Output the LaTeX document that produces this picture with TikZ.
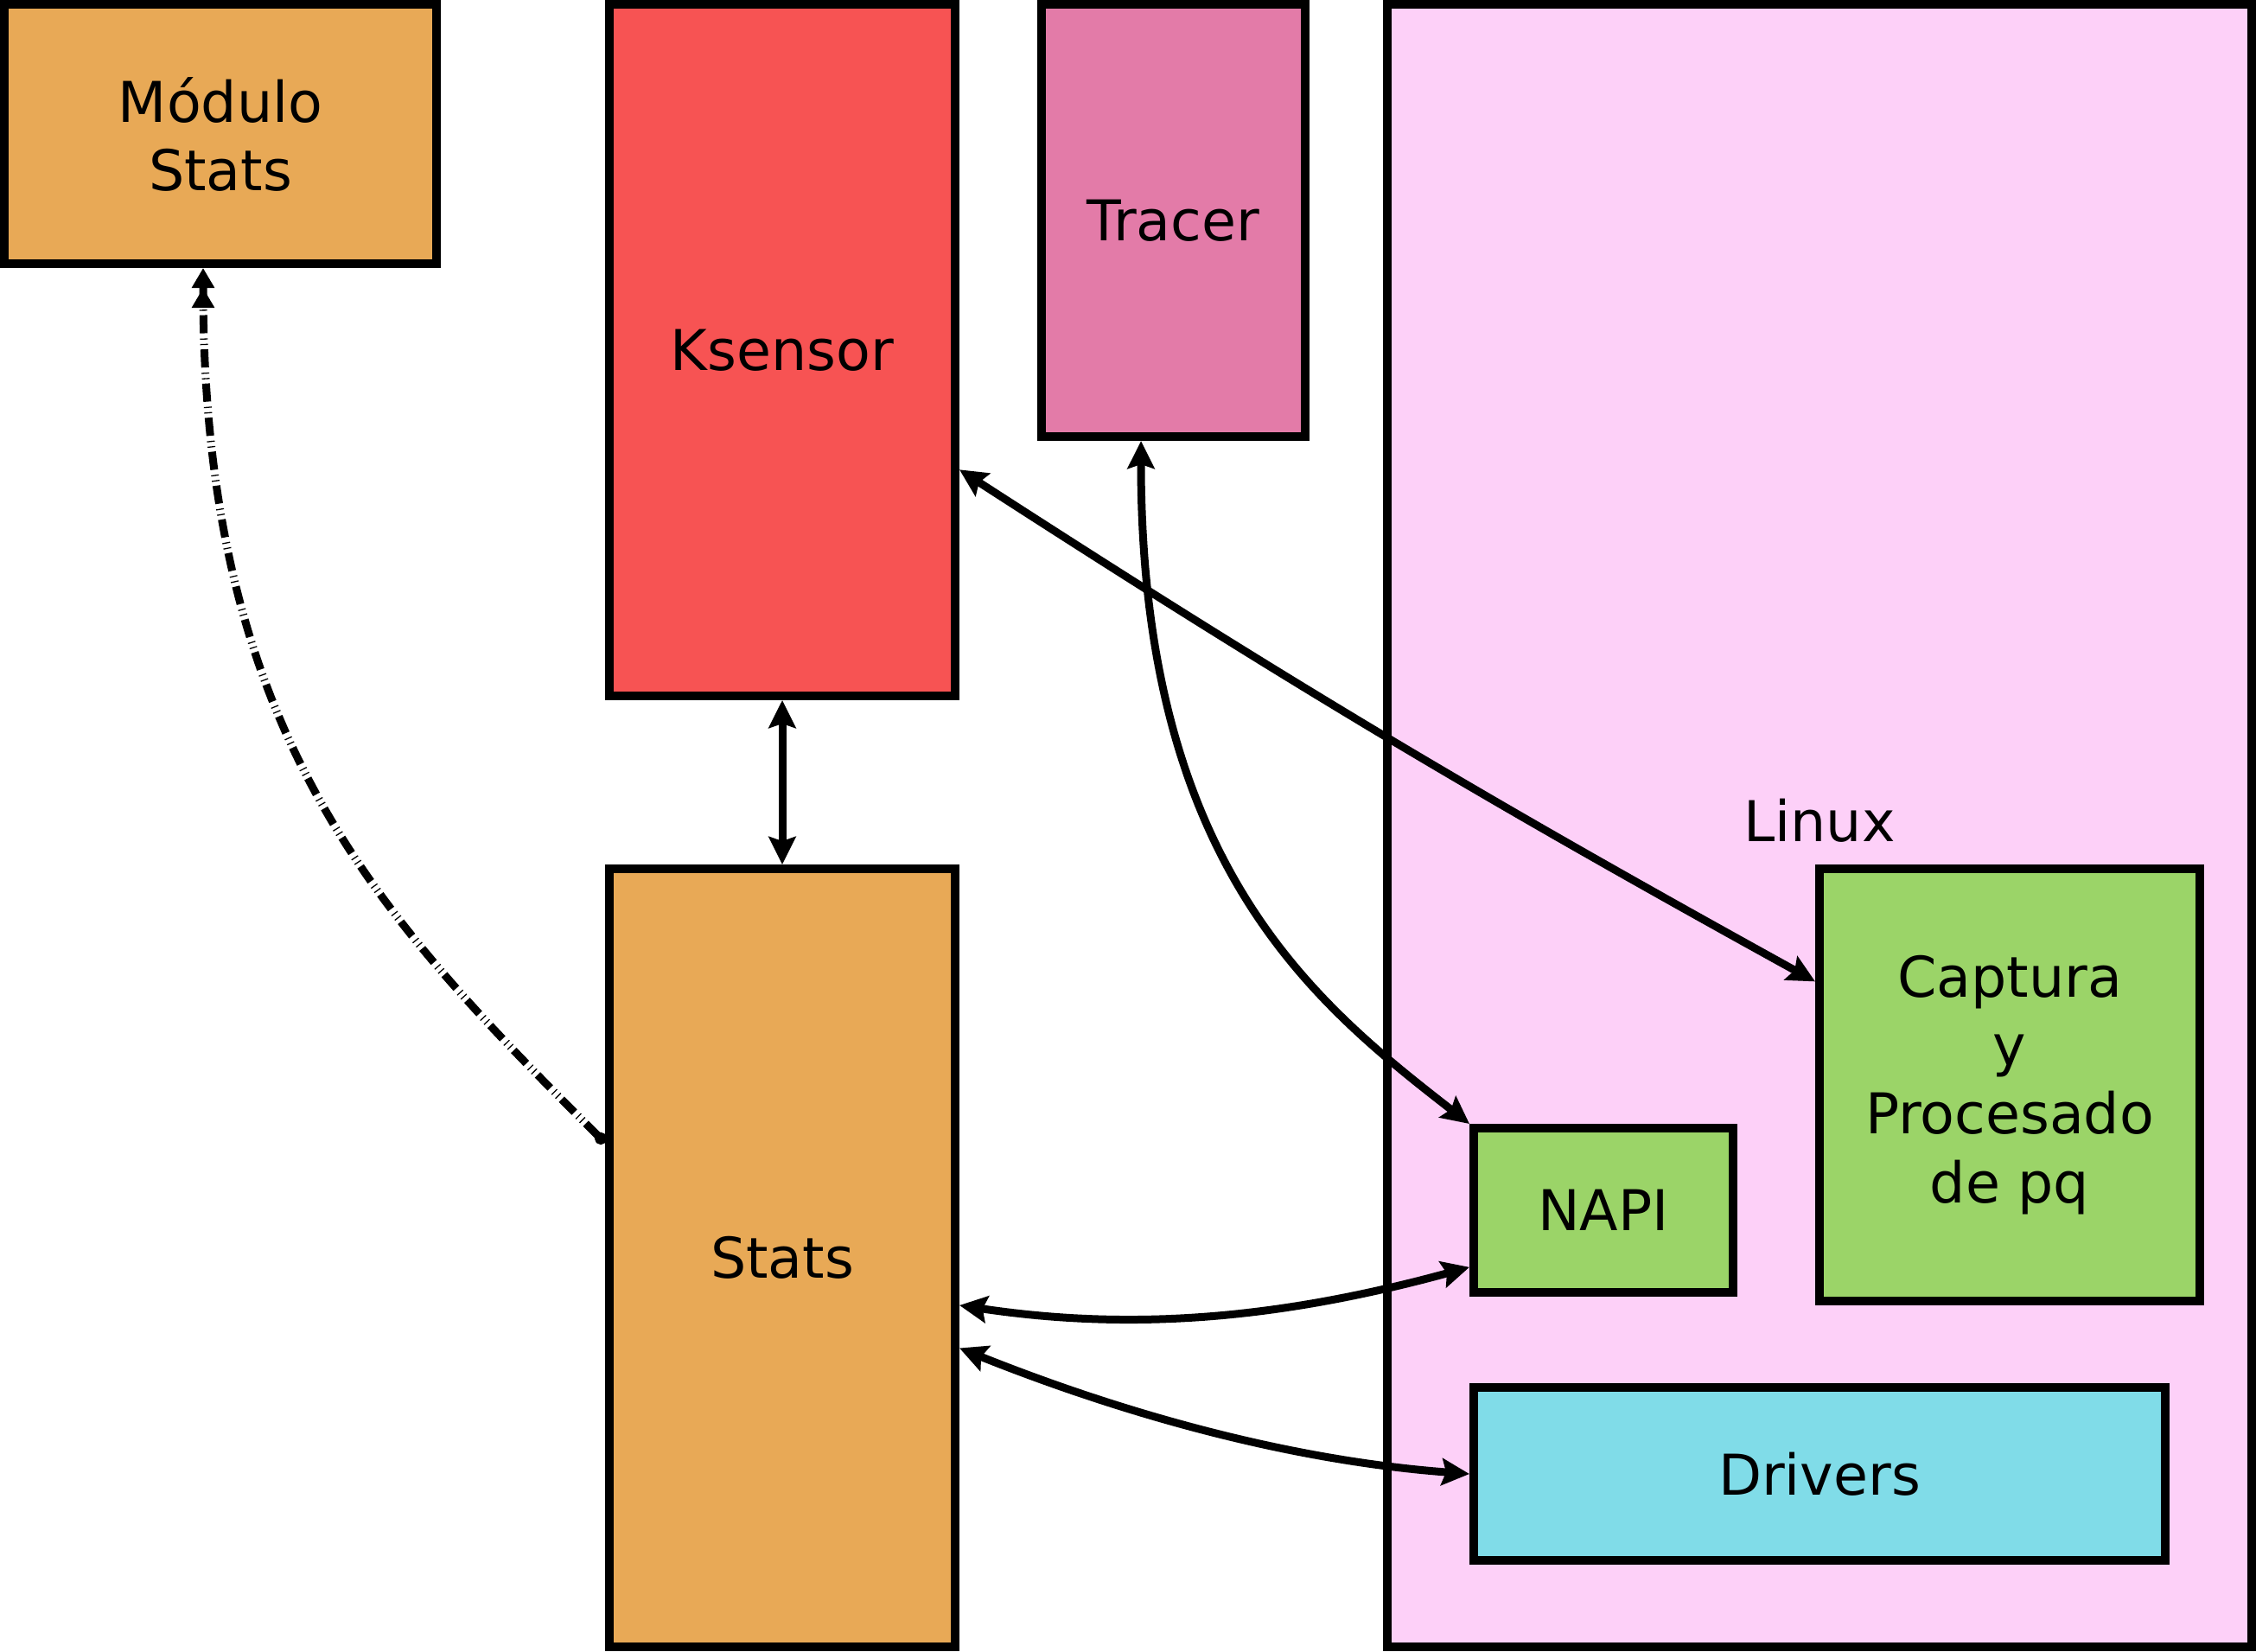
\documentclass[tikz,border=0pt]{standalone}
\usepackage{fontspec}
\setmainfont{DejaVu Sans}
\usetikzlibrary{arrows.meta}

\definecolor{naranja}{HTML}{E8A956}
\definecolor{rojo}{HTML}{F75353}
\definecolor{rosa}{HTML}{E37BA8}
\definecolor{rosaclaro}{HTML}{FDD0F8}
\definecolor{verde}{HTML}{9BD468}
\definecolor{celeste}{HTML}{80DCE8}

\tikzset{
	texto/.style={inner sep=0pt, align=center, font=\fontsize{18.5pt}{22.5pt}\selectfont},
	caja/.style={texto, draw, line width=.1cm},
	flecha/.style={line width=.09cm, <->},
	punteada/.style={line width=.09cm,
		dash pattern=on .21cm off .05cm on .013cm off .05cm on .013cm off .06cm,
		{Circle[length=.14cm]}-{Triangle[length=.23cm, width=.25cm, sep=0pt] Triangle[length=.23cm, width=.25cm]}}
}

\begin{document}
\begin{tikzpicture}[>={Stealth[length=.32cm, width=.31cm, inset=.05cm]}]
	\useasboundingbox (0, 0) rectangle (26.1, -19.1);

	\node[caja, fill=rosaclaro, minimum width=10cm, minimum height=19cm] (linux) at (21.05, -9.55){};
		\node[texto] (linuxtxt) at (21.05, -9.49){Linux};
		\node[caja, fill=verde, minimum width=4.4cm, minimum height=5cm] (captura) at (23.25, -12.55){Captura\\y\\Procesado\\de pq};
		\node[caja, fill=verde, minimum width=3cm, minimum height=1.9cm] (napi) at (18.55, -14){NAPI};
		\node[caja, fill=celeste, minimum width=8cm, minimum height=2cm] (drivers) at (21.05, -17.05){Drivers};

	\node[caja, fill=naranja, minimum width=5cm, minimum height=3cm] (modulo) at (2.55, -1.55){Módulo\\Stats};
	\node[caja, fill=rojo, minimum width=4cm, minimum height=8cm] (ksensor) at (9.05, -4.05){Ksensor};
	\node[caja, fill=rosa, minimum width=3.05cm, minimum height=5cm] (tracer) at (13.575, -2.55){Tracer};
	\node[caja, fill=naranja, minimum width=4cm, minimum height=9cm] (stats) at (9.05, -14.55){Stats};

	\draw[flecha] (ksensor.south) -- (stats.north);
	\draw[flecha] (ksensor.-34) to[bend right=2] (captura.152);
	\draw[flecha] ([xshift=-.375cm]tracer.south) .. controls +(0, -4.9) and +(-1.8, 1.4) .. (napi.north west);
	\draw[flecha] (stats.-15.5) .. controls +(2, -.3) and +(-2.2, -.6) .. (napi.203);
	\draw[flecha] (stats.-27.1) .. controls +(2, -.8) and +(-2, .15) .. (drivers.west);
	\draw[punteada] (stats.147) .. controls +(-2.64, 2.63) and +(0, -5.4) .. ([xshift=-.2cm]modulo.south);
\end{tikzpicture}
\end{document}
